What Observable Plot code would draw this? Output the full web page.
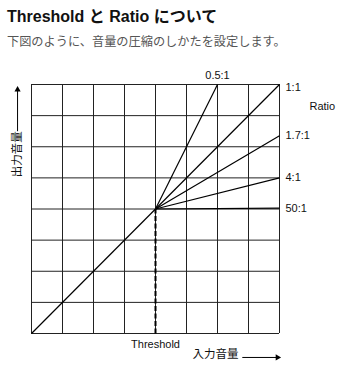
<!DOCTYPE html>
<html><head><meta charset="utf-8">
<script src="https://cdn.jsdelivr.net/npm/d3@7"></script>
<script src="https://cdn.jsdelivr.net/npm/@observablehq/plot@0.6"></script>
<style>
body{margin:0;background:#fff;}
#wrap{position:relative;width:346px;height:374px;font-family:"Liberation Sans","Noto Sans CJK JP",sans-serif;}
#title{position:absolute;left:7px;top:9px;font-size:16px;line-height:16px;font-weight:bold;color:#111;white-space:nowrap;}
#sub{position:absolute;left:7px;top:36px;font-size:12.2px;line-height:12px;color:#555;white-space:nowrap;}
#chart{position:absolute;left:0;top:55px;}
</style></head><body>
<div id="wrap">
<div id="title">Threshold と Ratio について</div>
<div id="sub">下図のように、音量の圧縮のしかたを設定します。</div>
<div id="chart"></div>
</div>
<script>
const gridTicks = [0,1,2,3,4,5,6,7,8];
const threshold = 4;
const ratioLabels = ["0.5:1","1:1","1.7:1","4:1","50:1"];
const endX = [6,8,8,8,8];
const endY = [8,8,6.35,5,4.03];
const ratioTitle = "Ratio";
const ratioTitleY = 7.3;
const xLabel = "Threshold";
const inputLabel = "入力音量";
const outputLabel = "出力音量";
// arrow annotation positions (data units)
const inArrowX = [6.8, 8];
const inArrowY = -0.77;
const outArrowX = -0.45;
const outArrowY = [6.5, 7.9];

const lines = ratioLabels.map((r,i)=>({label:r, x1: r==="1:1"?0:threshold, y1: r==="1:1"?0:threshold, x2:endX[i], y2:endY[i]}));
const topLabels = lines.filter(d=>d.y2>=8 && d.x2<8);
const cornerLabels = lines.filter(d=>d.y2>=8 && d.x2>=8);
const sideLabels = lines.filter(d=>d.x2>=8 && d.y2<8);

const plot = Plot.plot({
  width:346, height:319,
  marginLeft:31, marginRight:67, marginTop:29, marginBottom:41,
  x:{domain:[0,8], axis:null},
  y:{domain:[0,8], axis:null},
  style:{fontFamily:'"Liberation Sans","Noto Sans CJK JP",sans-serif', fontSize:"11px", color:"#111", background:"#fff"},
  marks:[
    Plot.ruleX(gridTicks, {x:d=>d, y1:0, y2:8, stroke:"#222", strokeWidth:1}),
    Plot.ruleY(gridTicks, {y:d=>d, x1:0, x2:8, stroke:"#222", strokeWidth:1}),
    Plot.link([threshold], {x1:d=>d, x2:d=>d, y1:0, y2:d=>d, stroke:"#000", strokeWidth:2, strokeDasharray:"5,2.5"}),
    Plot.link(lines, {x1:"x1", y1:"y1", x2:"x2", y2:"y2", stroke:"#000", strokeWidth:1.2}),
    Plot.text(topLabels, {x:"x2", y:"y2", text:"label", dy:-9, fill:"#111", fontSize:11}),
    Plot.text(cornerLabels, {x:"x2", y:"y2", text:"label", dx:6, dy:3, textAnchor:"start", fill:"#111", fontSize:11}),
    Plot.text(sideLabels, {x:"x2", y:"y2", text:"label", dx:6, dy:0, textAnchor:"start", fill:"#111", fontSize:11}),
    Plot.text([ratioTitle], {x:8, y:ratioTitleY, text:d=>d, dx:30, textAnchor:"start", fill:"#111", fontSize:11}),
    Plot.text([xLabel], {x:threshold, y:0, text:d=>d, dy:11, fill:"#111", fontSize:11}),
    Plot.text([inputLabel], {frameAnchor:"bottom-right", text:d=>d, dx:-41, dy:24, textAnchor:"end", fill:"#111", fontSize:11.5}),
    Plot.link([inArrowY], {x1:inArrowX[0], x2:inArrowX[1], y1:d=>d, y2:d=>d, stroke:"#000", strokeWidth:1}),
    Plot.dot([inArrowY], {x:inArrowX[1], y:d=>d, symbol:"triangle", rotate:90, r:2.3, fill:"#000", stroke:null, dx:-2}),
    Plot.text([outputLabel], {x:outArrowX, y:outArrowY[0], text:d=>d, rotate:-90, textAnchor:"end", dy:0, fill:"#111", fontSize:11.5}),
    Plot.link([outArrowX], {x1:d=>d, x2:d=>d, y1:outArrowY[0], y2:outArrowY[1], stroke:"#000", strokeWidth:1}),
    Plot.dot([outArrowX], {x:d=>d, y:outArrowY[1], symbol:"triangle", r:2.3, fill:"#000", stroke:null, dy:2})
  ]
});
document.getElementById("chart").appendChild(plot);
</script>
</body></html>
